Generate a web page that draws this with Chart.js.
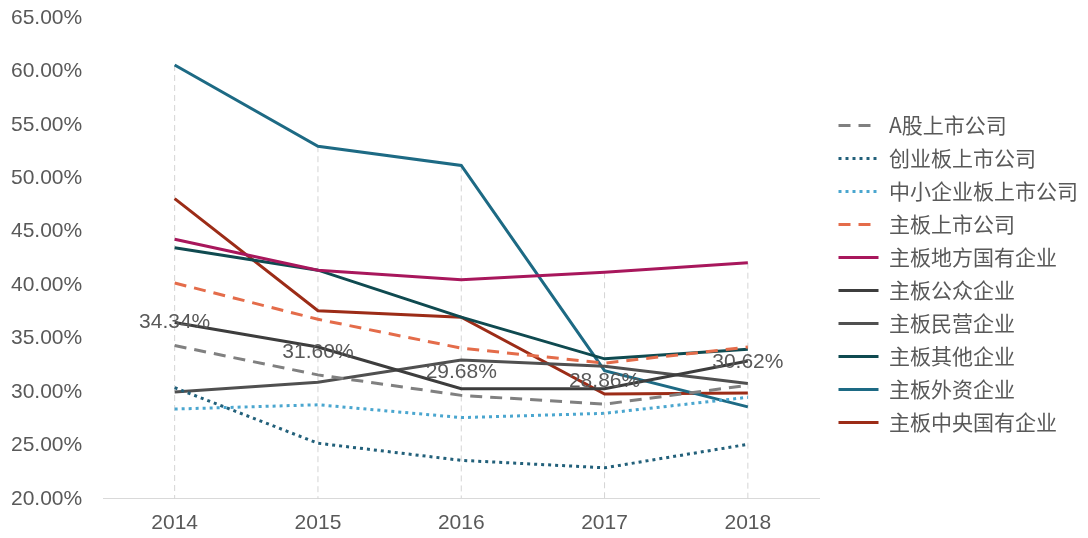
<!DOCTYPE html>
<html>
<head>
<meta charset="utf-8">
<script src="https://cdn.jsdelivr.net/npm/chart.js@4/dist/chart.umd.min.js"></script>
<style>
    body { margin: 0; background: #fff; }
    #wrap { width: 1088px; height: 538px; }
</style>
</head>
<body>
<div id="wrap"><canvas id="chart" width="1088" height="538"></canvas></div>
<script>
// Years on the x axis
const years = ['2014', '2015', '2016', '2017', '2018'];

// Series values (percent)
const aShare = [34.34, 31.60, 29.68, 28.86, 30.62];
const chiNext = [30.4, 25.2, 23.6, 22.9, 25.1];
const smeBoard = [28.4, 28.8, 27.6, 28.0, 29.5];
const mainBoard = [40.2, 36.8, 34.1, 32.7, 34.2];
const mainLocalSoe = [44.3, 41.4, 40.5, 41.2, 42.1];
const mainPublic = [36.5, 34.2, 30.3, 30.3, 32.9];
const mainPrivate = [30.0, 30.9, 33.0, 32.4, 30.8];
const mainOther = [43.5, 41.4, 37.0, 33.1, 34.0];
const mainForeign = [60.6, 53.0, 51.2, 32.0, 28.6];
const mainCentralSoe = [48.1, 37.6, 37.0, 29.8, 29.9];

const TEXT = '#595959';
const LATIN = '"Liberation Sans", Arial, sans-serif';
const LEGEND_GAP = 7;
const LEGEND_RAISE = 9;

/**
 * Builds one line dataset
 */
function line(label, data, color, dash) {
    return {
        label: label,
        data: data,
        borderColor: color,
        backgroundColor: color,
        borderWidth: 3,
        borderDash: dash || [],
        pointRadius: 0,
        tension: 0,
        fill: false
    };
}

// Vertical dashed drop lines from the highest value down to the axis
const dropLines = {
    id: 'dropLines',
    beforeDatasetsDraw(chart) {
        const { ctx, chartArea, scales } = chart;
        const sets = chart.data.datasets;
        ctx.save();
        ctx.strokeStyle = '#d4d4d4';
        ctx.lineWidth = 1;
        ctx.setLineDash([6, 4]);
        years.forEach((y, i) => {
            const top = Math.max(...sets.map(d => d.data[i]));
            const x = scales.x.getPixelForValue(i);
            ctx.beginPath();
            ctx.moveTo(x, scales.y.getPixelForValue(top));
            ctx.lineTo(x, chartArea.bottom);
            ctx.stroke();
        });
        ctx.restore();
    }
};

// Value labels on the A股 series
const valueLabels = {
    id: 'valueLabels',
    afterDatasetsDraw(chart) {
        const { ctx } = chart;
        const meta = chart.getDatasetMeta(0);
        ctx.save();
        ctx.font = '21px ' + LATIN;
        ctx.fillStyle = TEXT;
        ctx.textAlign = 'center';
        ctx.textBaseline = 'middle';
        meta.data.forEach((pt, i) => {
            ctx.fillText(aShare[i].toFixed(2) + '%', pt.x, pt.y - 23);
        });
        ctx.restore();
    }
};

// Leave a little more room between the plot and the legend
const legendGap = {
    id: 'legendGap',
    beforeLayout(chart) {
        const lg = chart.legend;
        if (lg && !lg._gapPatched) {
            const fit = lg.fit.bind(lg);
            lg.fit = function () {
                fit();
                this.width += LEGEND_GAP;
            };
            lg._gapPatched = true;
        }
    },
    afterLayout(chart) {
        const lg = chart.legend;
        if (lg) {
            lg.left += LEGEND_GAP;
            lg.right += LEGEND_GAP;
            lg.top -= LEGEND_RAISE;
            lg.bottom -= LEGEND_RAISE;
        }
    }
};

new Chart(document.getElementById('chart'), {
    type: 'line',
    data: {
        labels: years,
        datasets: [
            line('A股上市公司', aShare, '#808080', [12, 8]),
            line('创业板上市公司', chiNext, '#22607a', [3, 4]),
            line('中小企业板上市公司', smeBoard, '#4aa6cf', [3, 4]),
            line('主板上市公司', mainBoard, '#e46c4a', [12, 8]),
            line('主板地方国有企业', mainLocalSoe, '#a8175c'),
            line('主板公众企业', mainPublic, '#3d3d3d'),
            line('主板民营企业', mainPrivate, '#505050'),
            line('主板其他企业', mainOther, '#0f4a50'),
            line('主板外资企业', mainForeign, '#1d6a84'),
            line('主板中央国有企业', mainCentralSoe, '#9c2c17')
        ]
    },
    options: {
        responsive: false,
        animation: false,
        layout: { padding: { left: 11, right: 0, top: 18, bottom: -10 } },
        scales: {
            x: {
                offset: true,
                grid: { display: false, drawTicks: false },
                border: { display: true, color: '#d9d9d9', width: 1 },
                ticks: {
                    color: TEXT,
                    padding: 12,
                    font: { size: 21, family: LATIN }
                }
            },
            y: {
                min: 20,
                max: 65,
                grid: { display: false, drawTicks: false },
                border: { display: false },
                afterFit(scale) {
                    scale.width = 92;
                },
                ticks: {
                    stepSize: 5,
                    color: TEXT,
                    padding: 0,
                    crossAlign: 'far',
                    font: { size: 21, family: LATIN },
                    callback: v => v.toFixed(2) + '%'
                }
            }
        },
        plugins: {
            legend: {
                position: 'right',
                labels: {
                    usePointStyle: true,
                    pointStyle: 'line',
                    pointStyleWidth: 40,
                    boxWidth: 40,
                    boxHeight: 21,
                    padding: 12,
                    color: TEXT,
                    font: { size: 21, family: '"Noto Sans CJK SC", ' + LATIN },
                    generateLabels(chart) {
                        const items = Chart.defaults.plugins.legend.labels.generateLabels(chart);
                        return items.map(item => {
                            const ds = chart.data.datasets[item.datasetIndex];
                            item.lineDash = ds.borderDash;
                            item.lineWidth = ds.borderWidth;
                            item.strokeStyle = ds.borderColor;
                            return item;
                        });
                    }
                }
            },
            tooltip: { enabled: false }
        }
    },
    plugins: [dropLines, valueLabels, legendGap]
});
</script>
</body>
</html>
